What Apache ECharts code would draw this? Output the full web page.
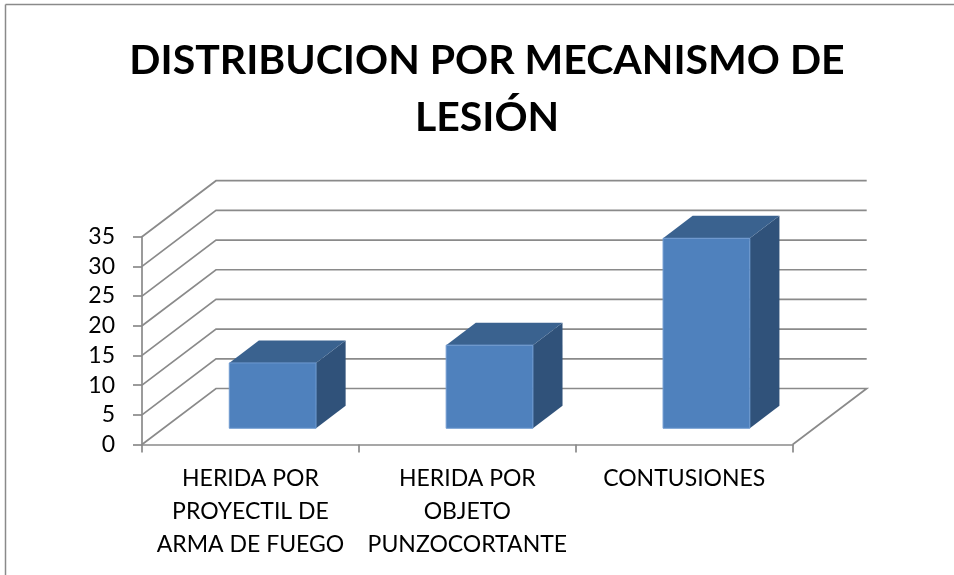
<!DOCTYPE html>
<html>
<head>
<meta charset="utf-8">
<style>html,body{margin:0;padding:0;background:#fff}#c{width:954px;height:575px}</style>
<script src="https://cdn.jsdelivr.net/npm/echarts@6/dist/echarts.min.js"></script>
</head>
<body>
<div id="c"></div>
<script>
const titleText = "DISTRIBUCION POR MECANISMO DE\nLESIÓN";
const categories = ["HERIDA POR\nPROYECTIL DE\nARMA DE FUEGO", "HERIDA POR\nOBJETO\nPUNZOCORTANTE", "CONTUSIONES"];
const values = [11, 14, 32];
const yTicks = [0, 5, 10, 15, 20, 25, 30, 35];

const DEPTH_X = 74, DEPTH_Y = -56;
const FONT = "Lato";
const LINE = "#8a8a8a";
const LW = 1.7;

const chart = echarts.init(document.getElementById('c'), null, {renderer: 'canvas'});

function wallItem(params, api) {
  const cs = params.coordSys;
  const v = api.value(0);
  const p = api.coord([0, v]);
  const y = p[1];
  const x0 = cs.x, x1 = cs.x + cs.width;
  const pts = [[x0, y], [x0 + DEPTH_X, y + DEPTH_Y], [x1 + DEPTH_X, y + DEPTH_Y]];
  if (v === 0) {
    pts.push([x1, y]);
  }
  return {
    type: 'polyline',
    shape: {points: pts},
    style: {stroke: LINE, lineWidth: LW, fill: null},
    silent: true
  };
}

function barItem(params, api) {
  const idx = api.value(0), val = api.value(1);
  const top = api.coord([idx, val]);
  const base = api.coord([idx, 0]);
  const band = api.size([1, 0])[0];
  const w = band * 0.4;
  const ox = DEPTH_X * 0.3, oy = DEPTH_Y * 0.29;
  const dx = DEPTH_X * 0.4, dy = DEPTH_Y * 0.4;
  const l = top[0] + ox - w / 2, r = l + w;
  const t = top[1] + oy, b = base[1] + oy;
  return {
    type: 'group',
    children: [
      {type: 'polygon', shape: {points: [[r, t], [r + dx, t + dy], [r + dx, b + dy], [r, b]]},
       style: {fill: '#30527a'}},
      {type: 'polygon', shape: {points: [[l, t], [l + dx, t + dy], [r + dx, t + dy], [r, t]]},
       style: {fill: '#3a628f'}},
      {type: 'rect', shape: {x: l, y: t, width: w, height: b - t},
       style: {fill: '#4f81bd', stroke: '#6f9ad0', lineWidth: 1}}
    ]
  };
}

chart.setOption({
  animation: false,
  backgroundColor: '#ffffff',
  title: {
    text: titleText,
    left: 482, top: 27, textAlign: 'center',
    textStyle: {fontFamily: FONT, fontWeight: 'bold', fontSize: 41, lineHeight: 57, color: '#000'}
  },
  grid: {left: 142, right: 161.3, top: 236.7, bottom: 130.5, containLabel: false},
  xAxis: {
    type: 'category',
    data: categories,
    axisLine: {lineStyle: {color: LINE, width: LW}},
    axisTick: {show: true, length: 8, lineStyle: {color: LINE, width: LW}},
    axisLabel: {
      interval: 0, margin: 18, verticalAlign: 'top',
      fontFamily: FONT, fontSize: 23, lineHeight: 33, color: '#000'
    }
  },
  yAxis: {
    type: 'value', min: 0, max: 35, interval: 5,
    axisLine: {show: true, lineStyle: {color: LINE, width: LW}},
    axisTick: {show: true, length: 9, lineStyle: {color: LINE, width: LW}},
    splitLine: {show: false},
    axisLabel: {margin: 27, fontFamily: FONT, fontSize: 23, color: '#000'}
  },
  graphic: [
    {type: 'line', shape: {x1: 5.5, y1: 4.5, x2: 954, y2: 4.5}, style: {stroke: LINE, lineWidth: 1.5}},
    {type: 'line', shape: {x1: 5.5, y1: 4.5, x2: 5.5, y2: 575}, style: {stroke: LINE, lineWidth: 1.5}}
  ],
  series: [
    {type: 'custom', name: 'walls', data: yTicks.map(v => [v]), renderItem: wallItem,
     encode: {y: 0}, silent: true, z: 1},
    {type: 'custom', name: 'bars', data: values.map((v, i) => [i, v]), renderItem: barItem,
     encode: {x: 0, y: 1}, silent: true, z: 2}
  ]
});
</script>
</body>
</html>
